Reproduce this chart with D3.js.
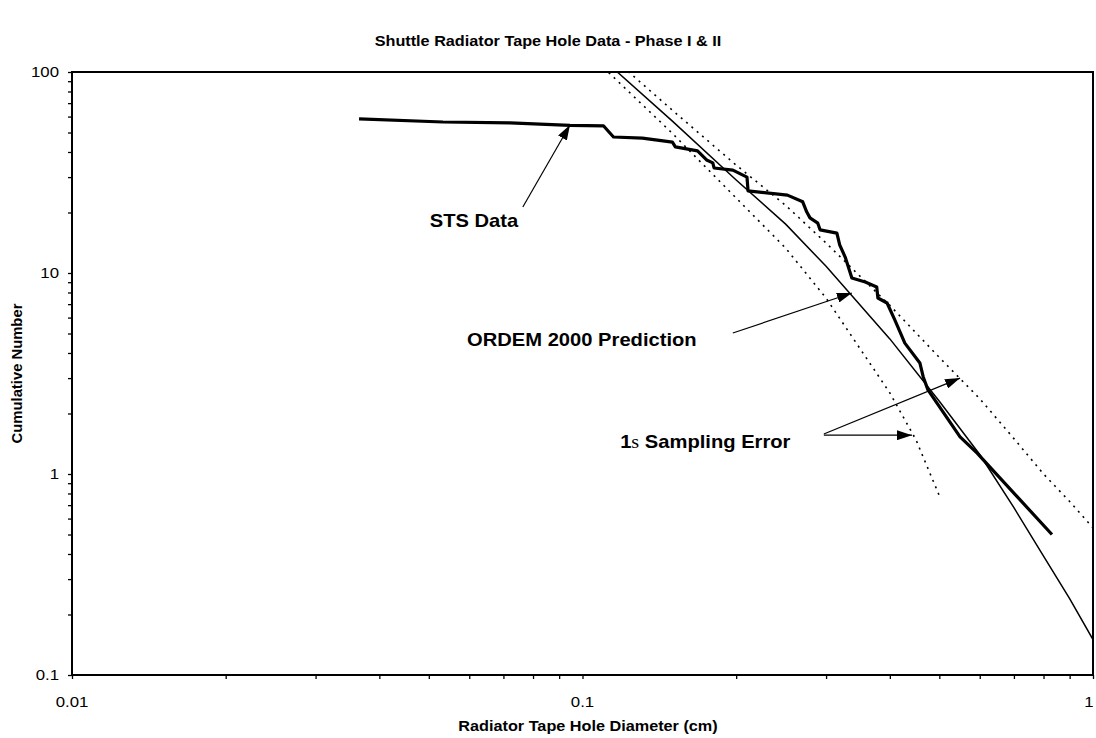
<!DOCTYPE html>
<html lang="en">
<head>
<meta charset="UTF-8">
<title>Shuttle Radiator Tape Hole Data - Phase I &amp; II</title>
<script src="https://cdnjs.cloudflare.com/ajax/libs/d3/7.8.5/d3.min.js"></script>
<style>
  body { margin: 0; background: #fff; }
  svg text { font-family: "Liberation Sans", Arial, sans-serif; fill: #000; }
  .axis path { display: none; }
  .axis line { stroke: #000; stroke-width: 1.3px; }
</style>
</head>
<body>
<div id="chart"></div>
<script>
// STS measured holes: cumulative number vs hole diameter (cm)
const stsDiam  = [0.0365, 0.0533, 0.0721, 0.0945, 0.110, 0.115, 0.131, 0.150, 0.152, 0.168,
                  0.175, 0.180, 0.181, 0.197, 0.210, 0.211, 0.252, 0.270, 0.275, 0.279,
                  0.289, 0.292, 0.315, 0.319, 0.327, 0.337, 0.358, 0.377, 0.379, 0.395,
                  0.409, 0.428, 0.458, 0.465, 0.475, 0.549, 0.593, 0.831];
const stsCount = [58.4, 56.4, 55.8, 54.2, 53.9, 47.5, 46.9, 44.8, 42.4, 40.5,
                  36.5, 35.3, 33.3, 32.5, 30.0, 25.6, 24.4, 22.6, 20.1, 18.8,
                  17.7, 16.4, 15.8, 13.8, 12.0, 9.44, 9.02, 8.52, 7.51, 7.09,
                  5.84, 4.48, 3.57, 3.04, 2.62, 1.53, 1.27, 0.50];

// ORDEM 2000 prediction
const ordemDiam  = [0.117, 0.15, 0.2, 0.25, 0.3, 0.4, 0.5, 0.6, 0.7, 0.8, 0.9, 1.0];
const ordemCount = [100, 57, 29, 17.5, 10.8, 4.7, 2.3, 1.25, 0.68, 0.39, 0.24, 0.15];

// 1 sigma sampling error band
const upperDiam  = [0.12, 0.15, 0.2, 0.25, 0.3, 0.4, 0.5, 0.6, 0.7, 0.8, 0.9, 1.0];
const upperCount = [106, 64.5, 34.4, 21.7, 14.1, 6.9, 3.8, 2.37, 1.5, 1.0, 0.73, 0.54];
const lowerDiam  = [0.11, 0.15, 0.2, 0.25, 0.3, 0.4, 0.45, 0.5];
const lowerCount = [105, 49.5, 23.6, 13.3, 7.5, 2.53, 1.48, 0.78];

const xMajor = [0.01, 0.1, 1];
const xLabels = ["0.01", "0.1", "1"];
const yMajor = [0.1, 1, 10, 100];
const yLabels = ["0.1", "1", "10", "100"];

const W = 1096, H = 738;
const margin = { top: 72, right: 3, bottom: 63, left: 72 };
const SX = 1.12; // text in the source is a bit wide

const svg = d3.select("#chart").append("svg")
    .attr("width", W).attr("height", H);

const x = d3.scaleLog().domain([0.01, 1]).range([margin.left, W - margin.right]);
const y = d3.scaleLog().domain([0.1, 100]).range([H - margin.bottom, margin.top]);

// minor ticks 1..9 for each decade
function decadeTicks(lo, hi) {
    const t = [];
    for (let d = lo; d < hi * 0.999; d *= 10)
        for (let k = 1; k < 10; k++) t.push(+(d * k).toPrecision(3));
    t.push(hi);
    return t;
}

function wideText(sel, px, py) {
    return sel.attr("transform", `translate(${px},${py}) scale(${SX},1)`);
}

svg.append("text")
    .call(wideText, W / 2, 46)
    .attr("text-anchor", "middle")
    .style("font-size", "14.5px").style("font-weight", "bold")
    .text("Shuttle Radiator Tape Hole Data - Phase I & II");

svg.append("g").attr("class", "axis")
    .attr("transform", `translate(0,${H - margin.bottom})`)
    .call(d3.axisBottom(x).tickValues(decadeTicks(0.01, 1)).tickSize(4).tickFormat(""));

svg.append("g").attr("class", "axis")
    .attr("transform", `translate(${margin.left},0)`)
    .call(d3.axisLeft(y).tickValues(decadeTicks(0.1, 100)).tickSize(4).tickFormat(""));

xMajor.forEach((v, i) => {
    // keep the last label inside the page edge
    const px = Math.min(x(v), W - 7);
    svg.append("text").call(wideText, px, 707)
        .attr("text-anchor", "middle").style("font-size", "15px")
        .text(xLabels[i]);
});
yMajor.forEach((v, i) => {
    svg.append("text").call(wideText, 59, y(v) + 5)
        .attr("text-anchor", "end").style("font-size", "15px")
        .text(yLabels[i]);
});

// plot frame
svg.append("rect")
    .attr("x", margin.left).attr("y", margin.top)
    .attr("width", W - margin.left - margin.right)
    .attr("height", H - margin.top - margin.bottom)
    .attr("fill", "none").attr("stroke", "#000").attr("stroke-width", 2);

svg.append("text")
    .call(wideText, 588, 731)
    .attr("text-anchor", "middle")
    .style("font-size", "14.5px").style("font-weight", "bold")
    .text("Radiator Tape Hole Diameter (cm)");

svg.append("text")
    .attr("transform", `translate(22,${(margin.top + H - margin.bottom) / 2}) rotate(-90)`)
    .attr("text-anchor", "middle")
    .style("font-size", "14.8px").style("font-weight", "bold")
    .text("Cumulative Number");

svg.append("clipPath").attr("id", "plot-clip")
    .append("rect")
    .attr("x", margin.left).attr("y", margin.top)
    .attr("width", W - margin.left - margin.right)
    .attr("height", H - margin.top - margin.bottom);

const line = d3.line().x(d => x(d[0])).y(d => y(d[1]));
const plot = svg.append("g").attr("clip-path", "url(#plot-clip)");

plot.append("path")
    .datum(d3.zip(upperDiam, upperCount))
    .attr("d", line).attr("fill", "none")
    .attr("stroke", "#000").attr("stroke-width", 1.6).attr("stroke-dasharray", "2,5");
plot.append("path")
    .datum(d3.zip(lowerDiam, lowerCount))
    .attr("d", line).attr("fill", "none")
    .attr("stroke", "#000").attr("stroke-width", 1.6).attr("stroke-dasharray", "2,5");
plot.append("path")
    .datum(d3.zip(ordemDiam, ordemCount))
    .attr("d", line).attr("fill", "none")
    .attr("stroke", "#000").attr("stroke-width", 1.5);
plot.append("path")
    .datum(d3.zip(stsDiam, stsCount))
    .attr("d", line).attr("fill", "none")
    .attr("stroke", "#000").attr("stroke-width", 3.2).attr("stroke-linejoin", "round");

// annotations (positions in data units)
svg.append("defs").append("marker")
    .attr("id", "head").attr("markerUnits", "userSpaceOnUse")
    .attr("markerWidth", 15).attr("markerHeight", 10)
    .attr("refX", 15).attr("refY", 5).attr("orient", "auto")
    .append("path").attr("d", "M0,0L15,5L0,10Z").attr("fill", "#000");

const arrows = [
    { from: [0.0764, 21.3], to: [0.0945, 54.5] },
    { from: [0.197, 5.03], to: [0.337, 7.95] },
    { from: [0.297, 1.58], to: [0.549, 3.00] },
    { from: [0.297, 1.56], to: [0.442, 1.56] }
];
arrows.forEach(a => {
    svg.append("line")
        .attr("x1", x(a.from[0])).attr("y1", y(a.from[1]))
        .attr("x2", x(a.to[0])).attr("y2", y(a.to[1]))
        .attr("stroke", "#000").attr("stroke-width", 1.2)
        .attr("marker-end", "url(#head)");
});

svg.append("text").call(wideText, x(0.0613), y(16.9))
    .attr("text-anchor", "middle")
    .style("font-size", "18px").style("font-weight", "bold")
    .text("STS Data");

svg.append("text").call(wideText, x(0.0594), y(4.33))
    .style("font-size", "18px").style("font-weight", "bold")
    .text("ORDEM 2000 Prediction");

const sig = svg.append("text").call(wideText, x(0.1185), y(1.35))
    .style("font-size", "18px").style("font-weight", "bold");
sig.append("tspan").text("1");
sig.append("tspan").style("font-family", "'Liberation Serif', 'Times New Roman', serif")
    .style("font-weight", "normal").text("s");
sig.append("tspan").text(" Sampling Error");
</script>
</body>
</html>
